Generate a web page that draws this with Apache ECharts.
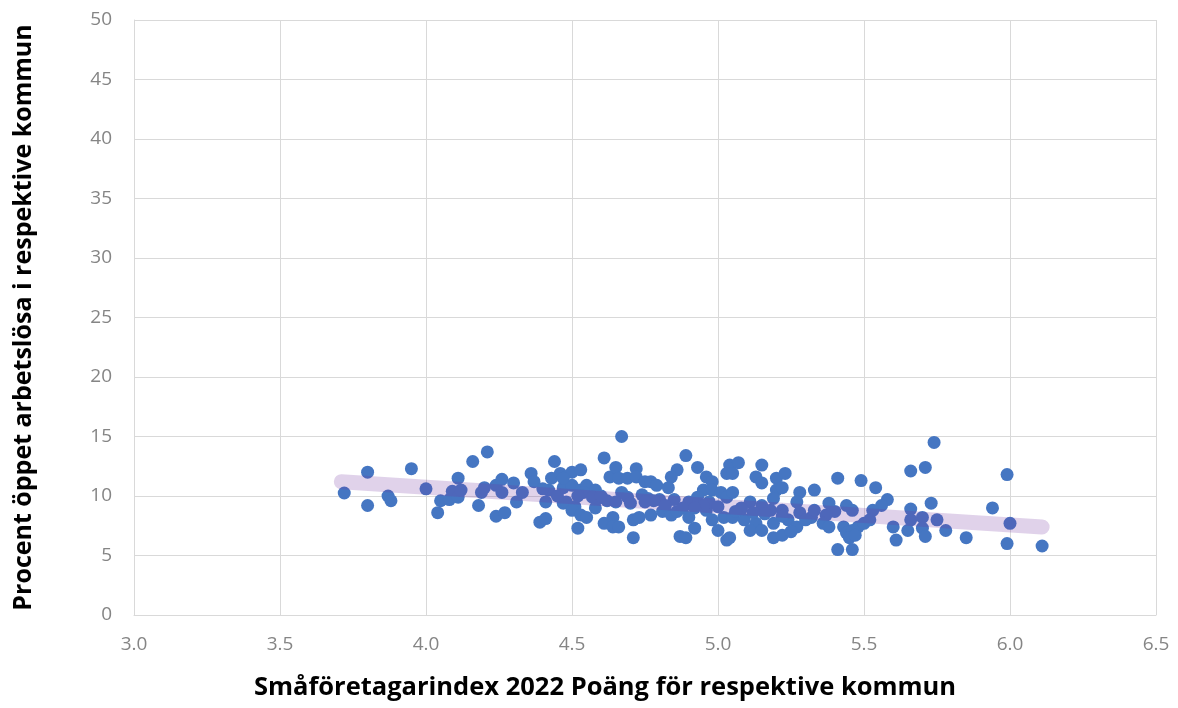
<!DOCTYPE html>
<html>
<head>
<meta charset="utf-8">
<script src="https://cdn.jsdelivr.net/npm/echarts@6/dist/echarts.min.js"></script>
<style>
  html, body { margin: 0; padding: 0; background: #fff; }
  #chart { width: 1178px; height: 708px; }
</style>
</head>
<body>
<div id="chart"></div>
<script>
// Småföretagarindex 2022 (x) vs procent öppet arbetslösa (y), one point per kommun
var indexScore = [
  3.72, 3.80, 3.80, 3.87, 3.88, 3.95, 4.00, 4.04, 4.05, 4.08, 4.09, 4.11, 4.11, 4.12,
  4.16, 4.21, 4.18, 4.19, 4.20, 4.24, 4.26, 4.26, 4.30, 4.31, 4.24, 4.27, 4.36, 4.37,
  4.39, 4.41, 4.41, 4.42, 4.44, 4.43, 4.46, 4.47, 4.47, 4.50, 4.50, 4.51, 4.52, 4.53,
  4.53, 4.67, 4.61, 4.63, 4.65, 4.66, 4.69, 4.72, 4.72, 4.75, 4.47, 4.55, 4.58, 4.54,
  4.48, 4.50, 4.53, 4.55, 4.58, 4.59, 4.61, 4.64, 4.64, 4.66, 4.67, 4.69, 4.71, 4.73,
  4.71, 4.74, 4.89, 4.93, 4.86, 4.84, 4.96, 4.98, 5.04, 5.03, 4.77, 4.79, 4.83, 4.76,
  4.80, 4.85, 4.90, 4.95, 4.98, 5.01, 5.03, 4.77, 4.81, 4.84, 4.86, 4.90, 4.92, 4.96,
  4.98, 5.00, 5.02, 5.03, 4.87, 4.89, 4.97, 4.93, 5.07, 5.15, 5.05, 5.13, 5.15, 5.20,
  5.23, 5.20, 5.22, 5.28, 5.33, 5.05, 5.11, 5.15, 5.19, 5.27, 5.08, 5.18, 5.22, 5.05,
  5.09, 5.13, 5.19, 5.24, 5.27, 5.32, 5.11, 5.15, 5.19, 5.22, 5.04, 5.25, 5.33, 5.41,
  5.49, 5.54, 5.58, 5.56, 5.38, 5.44, 5.46, 5.40, 5.37, 5.53, 5.36, 5.38, 5.43, 5.44,
  5.46, 5.48, 5.50, 5.52, 5.45, 5.47, 5.41, 5.46, 5.60, 5.61, 5.74, 5.66, 5.71, 5.66,
  5.73, 5.66, 5.70, 5.75, 5.78, 5.65, 5.70, 5.71, 5.99, 5.94, 6.00, 5.85, 5.99, 6.11,
  4.33, 4.45, 4.57, 4.62, 4.70, 4.78, 4.82, 4.88, 4.95, 5.00, 5.08, 5.12, 5.16, 5.22,
  5.28, 5.30, 4.60, 4.65, 4.75, 4.92, 5.06, 4.40, 4.52
];
var unemployment = [
  10.25, 12.0, 9.2, 10.0, 9.6, 12.3, 10.6, 8.6, 9.6, 9.7, 10.4, 11.5, 9.9, 10.5,
  12.9, 13.7, 9.2, 10.3, 10.7, 10.9, 11.4, 10.3, 11.1, 9.5, 8.3, 8.6, 11.9, 11.2,
  7.8, 8.1, 9.5, 10.5, 12.9, 11.5, 11.9, 9.4, 10.7, 12.0, 10.9, 9.1, 7.3, 12.2,
  10.5, 15.0, 13.2, 11.6, 12.4, 11.5, 11.5, 12.3, 11.6, 11.2, 11.5, 10.9, 10.5, 10.3,
  9.5, 8.8, 8.4, 8.2, 9.0, 9.8, 7.7, 8.2, 7.4, 7.4, 10.3, 9.9, 8.0, 8.2,
  6.5, 10.1, 13.4, 12.4, 12.2, 11.6, 11.6, 11.2, 12.6, 11.9, 11.2, 10.9, 10.7, 9.8,
  9.7, 9.7, 9.5, 10.5, 10.5, 10.3, 9.9, 8.4, 8.7, 8.4, 8.7, 8.2, 7.3, 8.8,
  8.0, 7.1, 8.2, 6.3, 6.6, 6.5, 9.5, 9.9, 12.8, 12.6, 11.9, 11.6, 11.1, 11.5,
  11.9, 10.5, 10.7, 10.3, 10.5, 10.3, 9.5, 9.2, 9.8, 9.5, 9.0, 8.8, 8.8, 8.2,
  8.0, 7.7, 7.7, 8.0, 7.4, 8.2, 7.1, 7.1, 6.5, 6.7, 6.5, 7.0, 8.8, 11.5,
  11.3, 10.7, 9.7, 9.2, 9.4, 9.2, 8.8, 8.7, 8.4, 8.8, 7.7, 7.4, 7.4, 6.9,
  7.1, 7.4, 7.7, 8.0, 6.5, 6.7, 5.5, 5.5, 7.4, 6.3, 14.5, 12.1, 12.4, 8.9,
  9.4, 8.0, 8.2, 8.0, 7.1, 7.1, 7.3, 6.6, 11.8, 9.0, 7.7, 6.5, 6.0, 5.8,
  10.3, 10.0, 9.9, 9.6, 9.4, 9.6, 9.2, 9.0, 9.2, 9.1, 8.9, 8.6, 8.5, 8.3,
  8.6, 8.0, 10.0, 9.5, 9.5, 9.0, 8.7, 10.6, 10.0
];

// linear trend line end points
var trendX = [3.71, 6.11];
var trendY = [11.2, 7.4];

var points = indexScore.map(function (x, i) { return [x, unemployment[i]]; });
var trend = trendX.map(function (x, i) { return [x, trendY[i]]; });

var chart = echarts.init(document.getElementById('chart'));
chart.setOption({
  animation: false,
  grid: { left: 134, right: 22, top: 20, bottom: 93 },
  xAxis: {
    type: 'value',
    min: 3,
    max: 6.5,
    interval: 0.5,
    name: 'Småföretagarindex 2022 Poäng för respektive kommun',
    nameLocation: 'middle',
    nameGap: 60,
    nameTextStyle: {
      fontFamily: 'Open Sans', fontWeight: 'bold', fontSize: 25.5, color: '#000',
      padding: [0, 80, 0, 0]
    },
    axisLine: { lineStyle: { color: '#d9d9d9' } },
    axisTick: { show: false },
    splitLine: { lineStyle: { color: '#d9d9d9', width: 1 } },
    axisLabel: {
      fontFamily: 'Open Sans', fontSize: 19, color: '#858585', margin: 20,
      formatter: function (v) { return v.toFixed(1); }
    }
  },
  yAxis: {
    type: 'value',
    min: 0,
    max: 50,
    interval: 5,
    name: 'Procent öppet arbetslösa i respektive kommun',
    nameLocation: 'middle',
    nameGap: 98,
    nameTextStyle: {
      fontFamily: 'Open Sans', fontWeight: 'bold', fontSize: 25, color: '#000'
    },
    axisLine: { show: true, lineStyle: { color: '#d9d9d9' } },
    axisTick: { show: false },
    splitLine: { lineStyle: { color: '#d9d9d9', width: 1 } },
    axisLabel: { fontFamily: 'Open Sans', fontSize: 19, color: '#858585', margin: 22 }
  },
  series: [
    {
      name: 'Kommuner',
      type: 'scatter',
      symbolSize: 13,
      itemStyle: { color: '#4576c2', opacity: 1 },
      data: points,
      z: 2
    },
    {
      name: 'Trend',
      type: 'line',
      symbol: 'none',
      lineStyle: { color: 'rgba(112,48,160,0.22)', width: 15, cap: 'round' },
      data: trend,
      z: 3
    }
  ]
});
</script>
</body>
</html>
